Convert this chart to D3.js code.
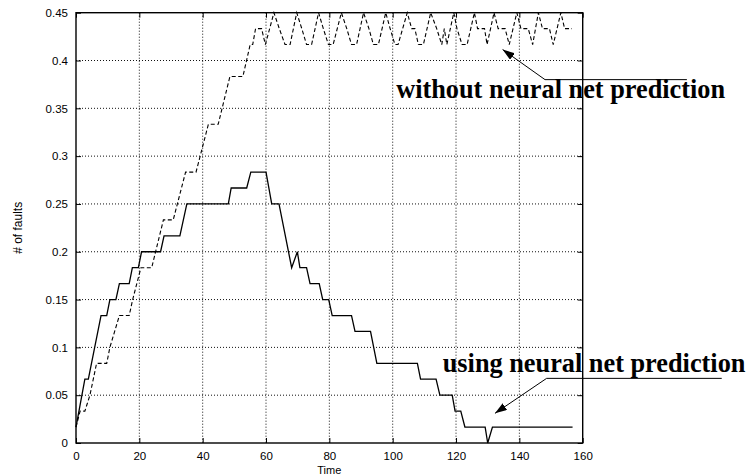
<!DOCTYPE html>
<html><head><meta charset="utf-8">
<script src="https://cdn.jsdelivr.net/npm/d3@7"></script>
<style>body{margin:0;background:#fff}svg{display:block}</style>
</head><body>
<svg id="chart" width="750" height="476"></svg>
<script>
// ---- data ----
const xTicks = [0, 20, 40, 60, 80, 100, 120, 140, 160];
const yTicks = [0, 0.05, 0.1, 0.15, 0.2, 0.25, 0.3, 0.35, 0.4, 0.45];
const yTickLabels = ["0", "0.05", "0.1", "0.15", "0.2", "0.25", "0.3", "0.35", "0.4", "0.45"];
const xLabel = "Time";
const yLabel = "# of faults";

// [time, fraction of faults] — solid line, using neural net prediction
const usingSeries = [
  [0,0.0167],[2.8,0.0667],[3.9,0.0667],[7.9,0.1333],[9.7,0.1333],[10.7,0.15],[12.6,0.15],
  [13.7,0.1667],[16.8,0.1667],[17.8,0.1833],[19.7,0.1833],[20.7,0.2],[26.7,0.2],[27.8,0.2167],
  [32.8,0.2167],[35,0.25],[48.1,0.25],[49,0.2667],[53.9,0.2667],[55.2,0.2833],[60,0.2833],
  [61.8,0.25],[64.1,0.25],[68.1,0.1833],[69.9,0.2],[70.7,0.1833],[72.8,0.1833],[73.9,0.1667],
  [76.8,0.1667],[77.9,0.15],[79.8,0.15],[80.9,0.1333],[87,0.1333],[88.1,0.1167],[93,0.1167],
  [95,0.0833],[107.8,0.0833],[108.8,0.0667],[113.7,0.0667],[114.9,0.05],[118.8,0.05],
  [119.7,0.0333],[121.5,0.0333],[122.8,0.0167],[129.2,0.0167],[130,0],[131.5,0.0167],[156.8,0.0167]
];

// [time, fraction of faults] — dashed line, without neural net prediction
const withoutSeries = [
  [0,0.0167],[1.3,0.0333],[2.8,0.0333],[4.4,0.05],[6.5,0.0833],[9.7,0.0833],[10.7,0.1],
  [13.7,0.1333],[16.8,0.1333],[17.9,0.15],[20.5,0.1833],[23.9,0.1833],[27.6,0.2333],[30.7,0.2333],
  [34.6,0.2833],[37.9,0.2833],[41.8,0.3333],[44.9,0.3333],[48.6,0.3833],[52.7,0.3833],
  [55,0.4167],[55.8,0.4167],[56.7,0.4333],[58.6,0.4333],[59.8,0.4167],
  [62.5,0.45],[64.2,0.4333],[66,0.4167],[67.6,0.4167],
  [69.7,0.45],[71.3,0.4333],[72.8,0.4167],[74.4,0.4167],
  [76.6,0.45],[78.1,0.4333],[79.7,0.4167],[81.2,0.4167],
  [83.8,0.45],[85.5,0.4333],[87,0.4167],[88.6,0.4167],
  [90.8,0.45],[92.5,0.4333],[93.9,0.4167],[95.5,0.4167],
  [97.8,0.45],[99.2,0.4333],[100.7,0.4167],[101.7,0.4167],
  [104.6,0.45],[106,0.4333],[107,0.4333],[108.1,0.4167],[109.7,0.4167],
  [112,0.45],[113.9,0.4333],[115.5,0.4167],[116.3,0.4333],[117.1,0.4167],
  [119.3,0.45],[120.3,0.4333],[121.9,0.4167],[123.5,0.4167],
  [125.8,0.45],[126.8,0.4333],[129,0.4333],[129.8,0.4167],
  [132,0.45],[133.3,0.4333],[135.5,0.4333],[136.8,0.4167],
  [139.2,0.45],[140.5,0.4333],[142.8,0.4333],[144.2,0.4167],
  [146,0.45],[147.3,0.4333],[149.5,0.4333],[150.7,0.4167],
  [153.1,0.45],[154.3,0.4333],[156.6,0.4333]
];

// annotations: text anchor, arrow tip, elbow, underline end (in data units)
const annoTexts = ["without neural net prediction", "using neural net prediction"];
const annoTextPos = [[101.1, 0.3609], [115.8, 0.0745]];
const annoTips = [[134.7, 0.4115], [132.3, 0.031]];
const annoElbows = [[148.1, 0.380], [148.6, 0.0676]];
const annoEnds = [[192.9, 0.380], [203.9, 0.0676]];

// ---- drawing ----
const svg = d3.select("#chart");
const pLeft = 76, pRight = 582.7, pTop = 12.7, pBottom = 443;
const x = d3.scaleLinear().domain([0, 160]).range([pLeft, pRight]);
const y = d3.scaleLinear().domain([0, 0.45]).range([pBottom, pTop]);

// grid
const g = svg.append("g");
g.selectAll("line.vg").data(xTicks.slice(1, -1)).join("line")
  .attr("x1", d => x(d)).attr("x2", d => x(d)).attr("y1", pTop).attr("y2", pBottom)
  .attr("stroke", "#111").attr("stroke-width", 1).attr("stroke-dasharray", "1,2");
g.selectAll("line.hg").data(yTicks.slice(1, -1)).join("line")
  .attr("x1", pLeft).attr("x2", pRight).attr("y1", d => y(d)).attr("y2", d => y(d))
  .attr("stroke", "#111").attr("stroke-width", 1).attr("stroke-dasharray", "1,2");

// axes
const font = "Liberation Sans, Arial, Helvetica, sans-serif";
const ax = svg.append("g").attr("transform", `translate(0,${pBottom})`)
  .call(d3.axisBottom(x).tickValues(xTicks).tickSize(-5).tickPadding(9).tickFormat(d3.format("d")));
const ay = svg.append("g").attr("transform", `translate(${pLeft},0)`)
  .call(d3.axisLeft(y).tickValues(yTicks).tickSize(-5).tickPadding(8).tickFormat((d, i) => yTickLabels[i]));
const axT = svg.append("g").attr("transform", `translate(0,${pTop})`)
  .call(d3.axisTop(x).tickValues(xTicks).tickSize(-5).tickFormat(""));
const ayR = svg.append("g").attr("transform", `translate(${pRight},0)`)
  .call(d3.axisRight(y).tickValues(yTicks).tickSize(-5).tickFormat(""));
[ax, ay, axT, ayR].forEach(a => {
  a.select(".domain").remove();
  a.selectAll(".tick line").attr("stroke", "#000").attr("stroke-width", 1);
  a.selectAll("text").attr("font-family", font).attr("font-size", 11.5).attr("fill", "#000");
});

// frame
svg.append("rect").attr("x", pLeft).attr("y", pTop).attr("width", pRight - pLeft).attr("height", pBottom - pTop)
  .attr("fill", "none").attr("stroke", "#000").attr("stroke-width", 1.4);

// series
const line = d3.line().x(d => x(d[0])).y(d => y(d[1]));
svg.append("path").datum(withoutSeries).attr("d", line)
  .attr("fill", "none").attr("stroke", "#000").attr("stroke-width", 1.1).attr("stroke-dasharray", "4,2.5");
svg.append("path").datum(usingSeries).attr("d", line)
  .attr("fill", "none").attr("stroke", "#000").attr("stroke-width", 1.3);

// axis labels
svg.append("text").attr("x", x(80)).attr("y", 474).attr("text-anchor", "middle")
  .attr("font-family", font).attr("font-size", 11).text(xLabel);
svg.append("text").attr("transform", `translate(22,${y(0.225)}) rotate(-90)`).attr("text-anchor", "middle")
  .attr("font-family", font).attr("font-size", 12).text(yLabel);

// annotations
svg.append("defs").append("marker").attr("id", "ah").attr("viewBox", "0 0 12 8")
  .attr("refX", 12).attr("refY", 4).attr("markerWidth", 12).attr("markerHeight", 8)
  .attr("markerUnits", "userSpaceOnUse").attr("orient", "auto")
  .append("path").attr("d", "M0,0 L12,4 L0,8 Z").attr("fill", "#000");

annoTexts.forEach((t, i) => {
  svg.append("path")
    .attr("d", `M${x(annoEnds[i][0])},${y(annoEnds[i][1])} L${x(annoElbows[i][0])},${y(annoElbows[i][1])} L${x(annoTips[i][0])},${y(annoTips[i][1])}`)
    .attr("fill", "none").attr("stroke", "#000").attr("stroke-width", 1).attr("marker-end", "url(#ah)");
  svg.append("text").attr("x", x(annoTextPos[i][0])).attr("y", y(annoTextPos[i][1]))
    .attr("font-family", "Liberation Serif, Times New Roman, serif").attr("font-weight", "bold")
    .attr("font-size", 26.3).attr("fill", "#000").text(t);
});
</script>
</body></html>
